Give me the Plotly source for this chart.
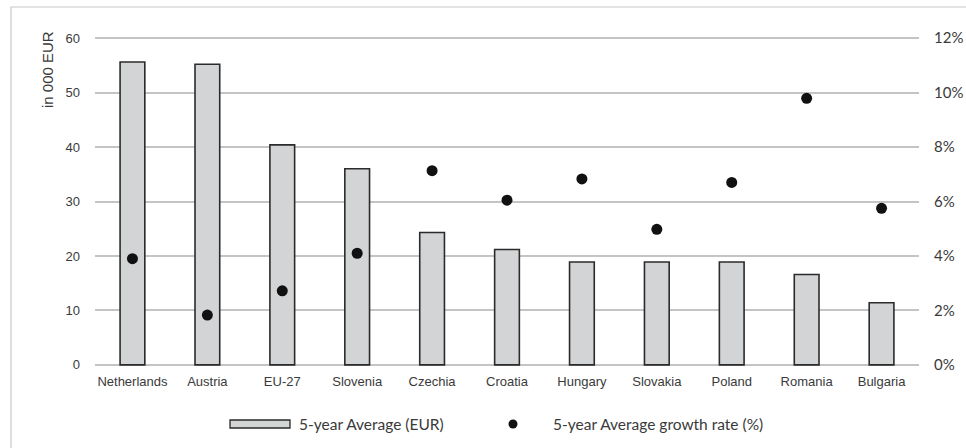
import plotly.graph_objects as go

countries = ["Netherlands", "Austria", "EU-27", "Slovenia", "Czechia", "Croatia",
             "Hungary", "Slovakia", "Poland", "Romania", "Bulgaria"]
avg_eur_thousands = [55.6, 55.2, 40.4, 36.0, 24.3, 21.2, 18.9, 18.9, 18.9, 16.6, 11.4]
avg_growth_pct = [3.9, 1.83, 2.72, 4.1, 7.13, 6.05, 6.83, 4.98, 6.7, 9.79, 5.75]

left_ticks = [0, 10, 20, 30, 40, 50, 60]
right_ticks = [0, 2, 4, 6, 8, 10, 12]
right_tick_labels = [f"{v}%" for v in right_ticks]

W, H = 966, 448
ML, MR, MT, MB = 95, 47, 37, 82
PW, PH = W - ML - MR, H - MT - MB


def px_x(x):
    """Pixel column -> paper x."""
    return (x - ML) / PW


def px_y(y):
    """Pixel row -> paper y."""
    return (H - MB - y) / PH


# a small pad keeps the 0 and top gridlines inside the plot area
PAD = 0.2
narrow = "Liberation Sans Narrow, Arial Narrow, Liberation Sans, sans-serif"
tick_font = dict(family=narrow, size=13, color="#3a3a3a")
legend_font = dict(family="Lato, Open Sans, sans-serif", size=15.5, color="#3a3a3a")

fig = go.Figure()
fig.add_trace(go.Bar(
    x=countries, y=avg_eur_thousands, name="5-year Average (EUR)",
    marker=dict(color="#d3d4d6", line=dict(color="#2b2b2b", width=1.6)),
    width=0.33, showlegend=False,
))
fig.add_trace(go.Scatter(
    x=countries, y=avg_growth_pct, name="5-year Average growth rate (%)",
    mode="markers", yaxis="y2",
    marker=dict(color="#111111", size=11),
    showlegend=False,
))

fig.update_layout(
    width=W, height=H,
    margin=dict(l=ML, r=MR, t=MT, b=MB, autoexpand=False),
    paper_bgcolor="white", plot_bgcolor="white",
    xaxis=dict(showgrid=False, showline=False, ticks="", tickfont=tick_font,
               ticklabelstandoff=6, automargin=False, range=[-0.5, 10.5]),
    yaxis=dict(range=[-PAD, 60 + PAD], tickvals=left_ticks, showgrid=True,
               gridcolor="#c4c4c4", gridwidth=2, zeroline=False, showline=False,
               tickfont=tick_font, ticklabelstandoff=14, automargin=False),
    yaxis2=dict(range=[-PAD / 5, 12 + PAD / 5], tickvals=right_ticks,
                ticktext=right_tick_labels, overlaying="y", side="right",
                showgrid=False, zeroline=False, showline=False,
                tickfont=dict(legend_font, size=15),
                ticklabelstandoff=14, automargin=False),
    shapes=[
        # outer frame
        dict(type="rect", xref="paper", yref="paper",
             x0=px_x(11), x1=px_x(W + 20), y0=px_y(H + 20), y1=px_y(7),
             line=dict(color="#c8c8c8", width=1.2), fillcolor="rgba(0,0,0,0)",
             layer="below"),
        # legend swatch for the bars
        dict(type="rect", xref="paper", yref="paper",
             x0=px_x(230), x1=px_x(290), y0=px_y(428), y1=px_y(420),
             line=dict(color="#2b2b2b", width=1.3), fillcolor="#d3d4d6"),
        # legend marker for the dots
        dict(type="circle", xref="paper", yref="paper",
             x0=px_x(508.5), x1=px_x(517.5), y0=px_y(428.5), y1=px_y(419.5),
             line=dict(color="#111111", width=0), fillcolor="#111111"),
    ],
    annotations=[
        dict(text="in 000 EUR", xref="paper", yref="paper",
             x=px_x(47), y=px_y(70), textangle=-90, showarrow=False,
             xanchor="center", yanchor="middle",
             font=dict(family=narrow, size=15, color="#3a3a3a")),
        dict(text="5-year Average (EUR)", xref="paper", yref="paper",
             x=px_x(297), y=px_y(424), showarrow=False,
             xanchor="left", yanchor="middle", font=legend_font),
        dict(text="5-year Average growth rate (%)", xref="paper", yref="paper",
             x=px_x(551), y=px_y(424), showarrow=False,
             xanchor="left", yanchor="middle", font=legend_font),
    ],
)

fig.write_html("out.html")
